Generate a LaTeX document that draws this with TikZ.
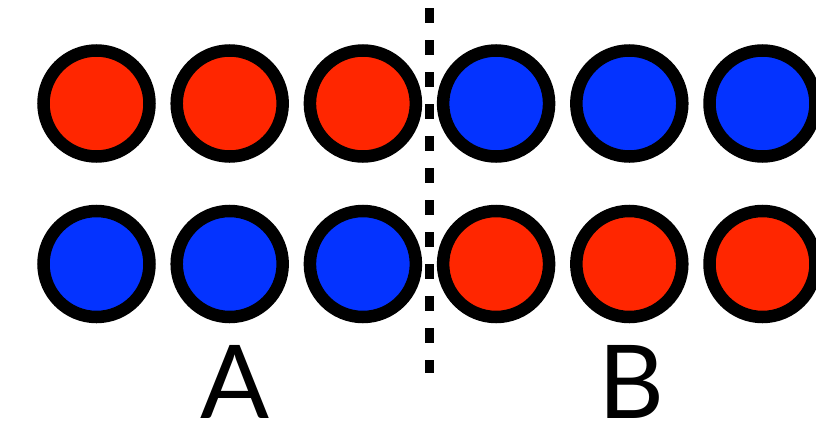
\documentclass[tikz,border=0pt]{standalone}
\usepackage{fontspec}
\setmainfont{Lato}
\usepackage{xcolor}
\usepackage{tikz}
\usetikzlibrary{positioning,calc}

\definecolor{ballred}{HTML}{FF2600}
\definecolor{ballblue}{HTML}{0433FF}

\begin{document}
\begin{tikzpicture}[x=1pt,y=-1pt]
  \tikzset{
    ball/.style={circle, draw=black, line width=12.5pt, minimum size=106pt, inner sep=0pt},
    divider/.style={line width=9pt, dash pattern=on 15pt off 17pt},
    side/.style={font=\fontsize{102}{102}\selectfont, anchor=base, inner sep=0pt}
  }
  \useasboundingbox (0,0) rectangle (816,423);
  % top row red then blue, bottom row swapped
  \foreach \c [count=\i] in {ballred,ballred,ballred,ballblue,ballblue,ballblue} {
    \pgfmathsetmacro{\cx}{96.5+(\i-1)*133.2}
    \node[ball, fill=\c] (top\i) at (\cx,103.5) {};
  }
  \foreach \c [count=\i] in {ballblue,ballblue,ballblue,ballred,ballred,ballred} {
    \pgfmathsetmacro{\cx}{96.5+(\i-1)*133.2}
    \node[ball, fill=\c] (bot\i) at (\cx,264) {};
  }
  \coordinate (divtop) at (429.5,8);
  \coordinate (divbot) at (429.5,373);
  \draw[divider] (divtop) -- (divbot);
  \node[side] (labA) at (235,418) {A};
  \node[side] (labB) at (631,418) {B};
\end{tikzpicture}
\end{document}
